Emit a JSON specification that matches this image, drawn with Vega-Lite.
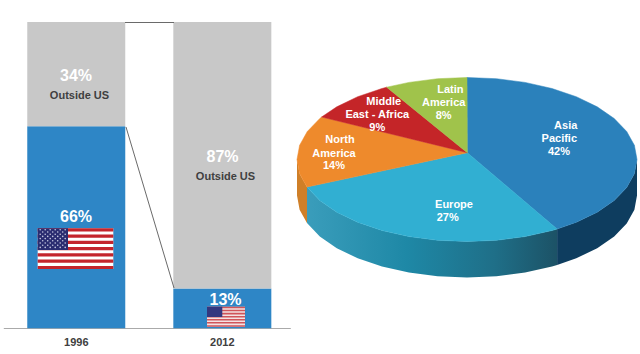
{"$schema":"https://vega.github.io/schema/vega-lite/v6.json","width":640,"height":354,"autosize":{"type":"none"},"padding":0,"background":"white","config":{"view":{"stroke":null},"font":"Liberation Sans"},
"datasets":{
"faces":[
{"s":"Asia Pacific","i":0,"x":467.3,"y":152.7},{"s":"Asia Pacific","i":1,"x":467,"y":77.5},{"s":"Asia Pacific","i":2,"x":496.5,"y":78.7},{"s":"Asia Pacific","i":3,"x":525.1,"y":82.4},{"s":"Asia Pacific","i":4,"x":552,"y":88.5},{"s":"Asia Pacific","i":5,"x":576.3,"y":96.7},{"s":"Asia Pacific","i":6,"x":597.2,"y":106.8},{"s":"Asia Pacific","i":7,"x":614.2,"y":118.5},{"s":"Asia Pacific","i":8,"x":626.7,"y":131.5},{"s":"Asia Pacific","i":9,"x":634.4,"y":145.3},{"s":"Asia Pacific","i":10,"x":637,"y":159.5},{"s":"Asia Pacific","i":11,"x":634.4,"y":173.7},{"s":"Asia Pacific","i":12,"x":626.7,"y":187.5},{"s":"Asia Pacific","i":13,"x":614.2,"y":200.5},{"s":"Asia Pacific","i":14,"x":597.2,"y":212.2},{"s":"Asia Pacific","i":15,"x":576.3,"y":222.3},{"s":"Asia Pacific","i":16,"x":557.1,"y":229},
{"s":"Europe","i":0,"x":467.3,"y":152.7},{"s":"Europe","i":1,"x":557.1,"y":229},{"s":"Europe","i":2,"x":552,"y":230.5},{"s":"Europe","i":3,"x":525.1,"y":236.6},{"s":"Europe","i":4,"x":496.5,"y":240.3},{"s":"Europe","i":5,"x":467,"y":241.5},{"s":"Europe","i":6,"x":437.5,"y":240.3},{"s":"Europe","i":7,"x":408.9,"y":236.6},{"s":"Europe","i":8,"x":382,"y":230.5},{"s":"Europe","i":9,"x":357.7,"y":222.3},{"s":"Europe","i":10,"x":336.8,"y":212.2},{"s":"Europe","i":11,"x":319.8,"y":200.5},{"s":"Europe","i":12,"x":307,"y":187},
{"s":"North America","i":0,"x":467.3,"y":152.7},{"s":"North America","i":1,"x":307,"y":187},{"s":"North America","i":2,"x":299.6,"y":173.7},{"s":"North America","i":3,"x":297,"y":159.5},{"s":"North America","i":4,"x":299.6,"y":145.3},{"s":"North America","i":5,"x":307.3,"y":131.5},{"s":"North America","i":6,"x":319.8,"y":118.5},{"s":"North America","i":7,"x":321.6,"y":117},
{"s":"Middle East - Africa","i":0,"x":467.3,"y":152.7},{"s":"Middle East - Africa","i":1,"x":321.6,"y":117},{"s":"Middle East - Africa","i":2,"x":336.8,"y":106.8},{"s":"Middle East - Africa","i":3,"x":357.7,"y":96.7},{"s":"Middle East - Africa","i":4,"x":382,"y":88.5},{"s":"Middle East - Africa","i":5,"x":386.7,"y":87.2},
{"s":"Latin America","i":0,"x":467.3,"y":152.7},{"s":"Latin America","i":1,"x":386.7,"y":87.2},{"s":"Latin America","i":2,"x":408.9,"y":82.4},{"s":"Latin America","i":3,"x":437.5,"y":78.7},{"s":"Latin America","i":4,"x":467,"y":77.5}
],
"wallAsia":[{"x":637,"y":159.5,"y2":195.5},{"x":634.4,"y":173.7,"y2":209.7},{"x":626.7,"y":187.5,"y2":223.5},{"x":614.2,"y":200.5,"y2":236.5},{"x":597.2,"y":212.2,"y2":248.2},{"x":576.3,"y":222.3,"y2":258.3},{"x":557.1,"y":229,"y2":265}],
"wallEurope":[{"x":557.1,"y":229,"y2":265},{"x":552,"y":230.5,"y2":266.5},{"x":525.1,"y":236.6,"y2":272.6},{"x":496.5,"y":240.3,"y2":276.3},{"x":467,"y":241.5,"y2":277.5},{"x":437.5,"y":240.3,"y2":276.3},{"x":408.9,"y":236.6,"y2":272.6},{"x":382,"y":230.5,"y2":266.5},{"x":357.7,"y":222.3,"y2":258.3},{"x":336.8,"y":212.2,"y2":248.2},{"x":319.8,"y":200.5,"y2":236.5},{"x":307,"y":187,"y2":223}],
"wallNA":[{"x":307,"y":187,"y2":223},{"x":299.6,"y":173.7,"y2":209.7},{"x":297,"y":159.5,"y2":195.5}],
"stripes":[
{"x":37.7,"x2":113.3,"y":228.3,"y2":231.4},{"x":37.7,"x2":113.3,"y":234.6,"y2":237.8},{"x":37.7,"x2":113.3,"y":240.8,"y2":243.9},{"x":37.7,"x2":113.3,"y":247.1,"y2":250.2},{"x":37.7,"x2":113.3,"y":253.3,"y2":256.5},{"x":37.7,"x2":113.3,"y":259.6,"y2":262.7},{"x":37.7,"x2":113.3,"y":265.9,"y2":269}],
"stripesSmall":[
{"x":207,"x2":245,"y":306.7,"y2":308.2},{"x":207,"x2":245,"y":309.8,"y2":311.3},{"x":207,"x2":245,"y":312.8,"y2":314.4},{"x":207,"x2":245,"y":315.9,"y2":317.4},{"x":207,"x2":245,"y":319,"y2":320.5},{"x":207,"x2":245,"y":322,"y2":323.6},{"x":207,"x2":245,"y":325.2,"y2":326.7}],
"stars":[
{"x":40.2,"y":229.8},{"x":45.2,"y":229.8},{"x":50.2,"y":229.8},{"x":55.2,"y":229.8},{"x":60.2,"y":229.8},{"x":65.2,"y":229.8},
{"x":42.7,"y":232},{"x":47.7,"y":232},{"x":52.7,"y":232},{"x":57.7,"y":232},{"x":62.7,"y":232},
{"x":40.2,"y":234.2},{"x":45.2,"y":234.2},{"x":50.2,"y":234.2},{"x":55.2,"y":234.2},{"x":60.2,"y":234.2},{"x":65.2,"y":234.2},
{"x":42.7,"y":236.4},{"x":47.7,"y":236.4},{"x":52.7,"y":236.4},{"x":57.7,"y":236.4},{"x":62.7,"y":236.4},
{"x":40.2,"y":238.6},{"x":45.2,"y":238.6},{"x":50.2,"y":238.6},{"x":55.2,"y":238.6},{"x":60.2,"y":238.6},{"x":65.2,"y":238.6},
{"x":42.7,"y":240.8},{"x":47.7,"y":240.8},{"x":52.7,"y":240.8},{"x":57.7,"y":240.8},{"x":62.7,"y":240.8},
{"x":40.2,"y":243},{"x":45.2,"y":243},{"x":50.2,"y":243},{"x":55.2,"y":243},{"x":60.2,"y":243},{"x":65.2,"y":243},
{"x":42.7,"y":245.2},{"x":47.7,"y":245.2},{"x":52.7,"y":245.2},{"x":57.7,"y":245.2},{"x":62.7,"y":245.2},
{"x":40.2,"y":247.4},{"x":45.2,"y":247.4},{"x":50.2,"y":247.4},{"x":55.2,"y":247.4},{"x":60.2,"y":247.4},{"x":65.2,"y":247.4}]
},
"layer":[
{"data":{"values":[{"year":"1996","segment":"US","share":66,"rank":1},{"year":"1996","segment":"Outside US","share":34,"rank":2},{"year":"2012","segment":"US","share":13,"rank":1},{"year":"2012","segment":"Outside US","share":87,"rank":2}]},
"mark":{"type":"bar"},
"encoding":{
"x":{"field":"year","type":"nominal","title":null,"scale":{"range":[3.3,290.3],"paddingInner":0.329,"paddingOuter":0.147,"align":0.558},"axis":{"orient":"bottom","offset":-26,"ticks":false,"domainColor":"#aaaaaa","domainWidth":1,"labelAngle":0,"labelFont":"Liberation Sans","labelFontWeight":"bold","labelFontSize":11,"labelColor":"#404040","labelPadding":8,"grid":false}},
"y":{"field":"share","type":"quantitative","stack":"zero","axis":null,"scale":{"domain":[0,100],"range":[328.3,22],"nice":false}},
"color":{"field":"segment","type":"nominal","legend":null,"scale":{"domain":["US","Outside US"],"range":["#2e86c6","#c8c8c8"]}},
"order":{"field":"rank","type":"quantitative"}}},
{"encoding":{
"x":{"field":"x","type":"quantitative","axis":null,"scale":{"domain":[0,640],"range":[0,640],"nice":false,"zero":false}},
"y":{"field":"y","type":"quantitative","axis":null,"scale":{"domain":[0,354],"range":[0,354],"nice":false,"zero":false}}},
"layer":[
{"data":{"values":[{"x":125,"x2":174,"y":22.5,"y2":22.5},{"x":126,"x2":174,"y":127,"y2":288}]},"mark":{"type":"rule","color":"#6a6a6a","strokeWidth":1},"encoding":{"x2":{"field":"x2"},"y2":{"field":"y2"}}},
{"data":{"values":[{"x":37.7,"x2":113.3,"y":228.3,"y2":269}]},"mark":{"type":"rect","color":"#ffffff"},"encoding":{"x2":{"field":"x2"},"y2":{"field":"y2"}}},
{"data":{"name":"stripes"},"mark":{"type":"rect","color":"#c4242c"},"encoding":{"x2":{"field":"x2"},"y2":{"field":"y2"}}},
{"data":{"values":[{"x":37.7,"x2":68,"y":228.3,"y2":250}]},"mark":{"type":"rect","color":"#2a2c70"},"encoding":{"x2":{"field":"x2"},"y2":{"field":"y2"}}},
{"data":{"name":"stars"},"mark":{"type":"point","filled":true,"color":"#c5c8e0","size":2.5,"opacity":1}},
{"data":{"values":[{"x":207,"x2":245,"y":306.7,"y2":326.7}]},"mark":{"type":"rect","color":"#f3e3e3"},"encoding":{"x2":{"field":"x2"},"y2":{"field":"y2"}}},
{"data":{"name":"stripesSmall"},"mark":{"type":"rect","color":"#d0555a"},"encoding":{"x2":{"field":"x2"},"y2":{"field":"y2"}}},
{"data":{"values":[{"x":207,"x2":222.3,"y":306.7,"y2":317}]},"mark":{"type":"rect","color":"#33377f"},"encoding":{"x2":{"field":"x2"},"y2":{"field":"y2"}}},
{"data":{"name":"wallNA"},"mark":{"type":"area","color":"#cf7f28"},"encoding":{"y2":{"field":"y2"}}},
{"data":{"name":"wallEurope"},"mark":{"type":"area","color":{"gradient":"linear","x1":0,"x2":1,"y1":0,"y2":0,"stops":[{"offset":0,"color":"#3a9dbb"},{"offset":0.4,"color":"#1e88a6"},{"offset":0.75,"color":"#1f6f88"},{"offset":1,"color":"#1c5266"}]}},"encoding":{"y2":{"field":"y2"}}},
{"data":{"name":"wallAsia"},"mark":{"type":"area","color":"#0e3d5f"},"encoding":{"y2":{"field":"y2"}}},
{"data":{"name":"faces"},"mark":{"type":"line","strokeWidth":0.5,"interpolate":"linear-closed"},
"encoding":{"order":{"field":"i","type":"quantitative"},
"fill":{"field":"s","type":"nominal","legend":null,"scale":{"domain":["Asia Pacific","Europe","North America","Middle East - Africa","Latin America"],"range":["#2b81bb","#31afd2","#ee8a2c","#c42528","#a0c34b"]}},
"stroke":{"field":"s","type":"nominal","legend":null,"scale":{"domain":["Asia Pacific","Europe","North America","Middle East - Africa","Latin America"],"range":["#2b81bb","#31afd2","#ee8a2c","#c42528","#a0c34b"]}}}},
{"data":{"values":[{"t":"Asia","x":565.7,"y":125},{"t":"Pacific","x":559.3,"y":137.7},{"t":"42%","x":559,"y":151},{"t":"Europe","x":454,"y":203.7},{"t":"27%","x":447.7,"y":217.3},{"t":"North","x":340,"y":139.3},{"t":"America","x":334,"y":152.7},{"t":"14%","x":334,"y":165.3},{"t":"Middle","x":383.7,"y":100.7},{"t":"East - Africa","x":377.3,"y":114},{"t":"9%","x":377.3,"y":126.7},{"t":"Latin","x":450.3,"y":89.3},{"t":"America","x":443.7,"y":101.7},{"t":"8%","x":443.7,"y":115}]},
"mark":{"type":"text","font":"Liberation Sans","fontWeight":"bold","fontSize":11,"dy":1,"color":"#ffffff"},"encoding":{"text":{"field":"t"}}},
{"data":{"values":[{"t":"34%","x":76,"y":75.5},{"t":"66%","x":76,"y":217},{"t":"87%","x":222.5,"y":156.5},{"t":"13%","x":225.5,"y":299.5}]},
"mark":{"type":"text","font":"Liberation Sans","fontWeight":"bold","fontSize":16,"color":"#ffffff"},"encoding":{"text":{"field":"t"}}},
{"data":{"values":[{"t":"Outside US","x":79.5,"y":95.5},{"t":"Outside US","x":225.5,"y":176.5}]},
"mark":{"type":"text","font":"Liberation Sans","fontWeight":"bold","fontSize":11,"color":"#404040"},"encoding":{"text":{"field":"t"}}}
]}
],
"resolve":{"scale":{"x":"independent","y":"independent"},"axis":{"x":"independent","y":"independent"}}}
